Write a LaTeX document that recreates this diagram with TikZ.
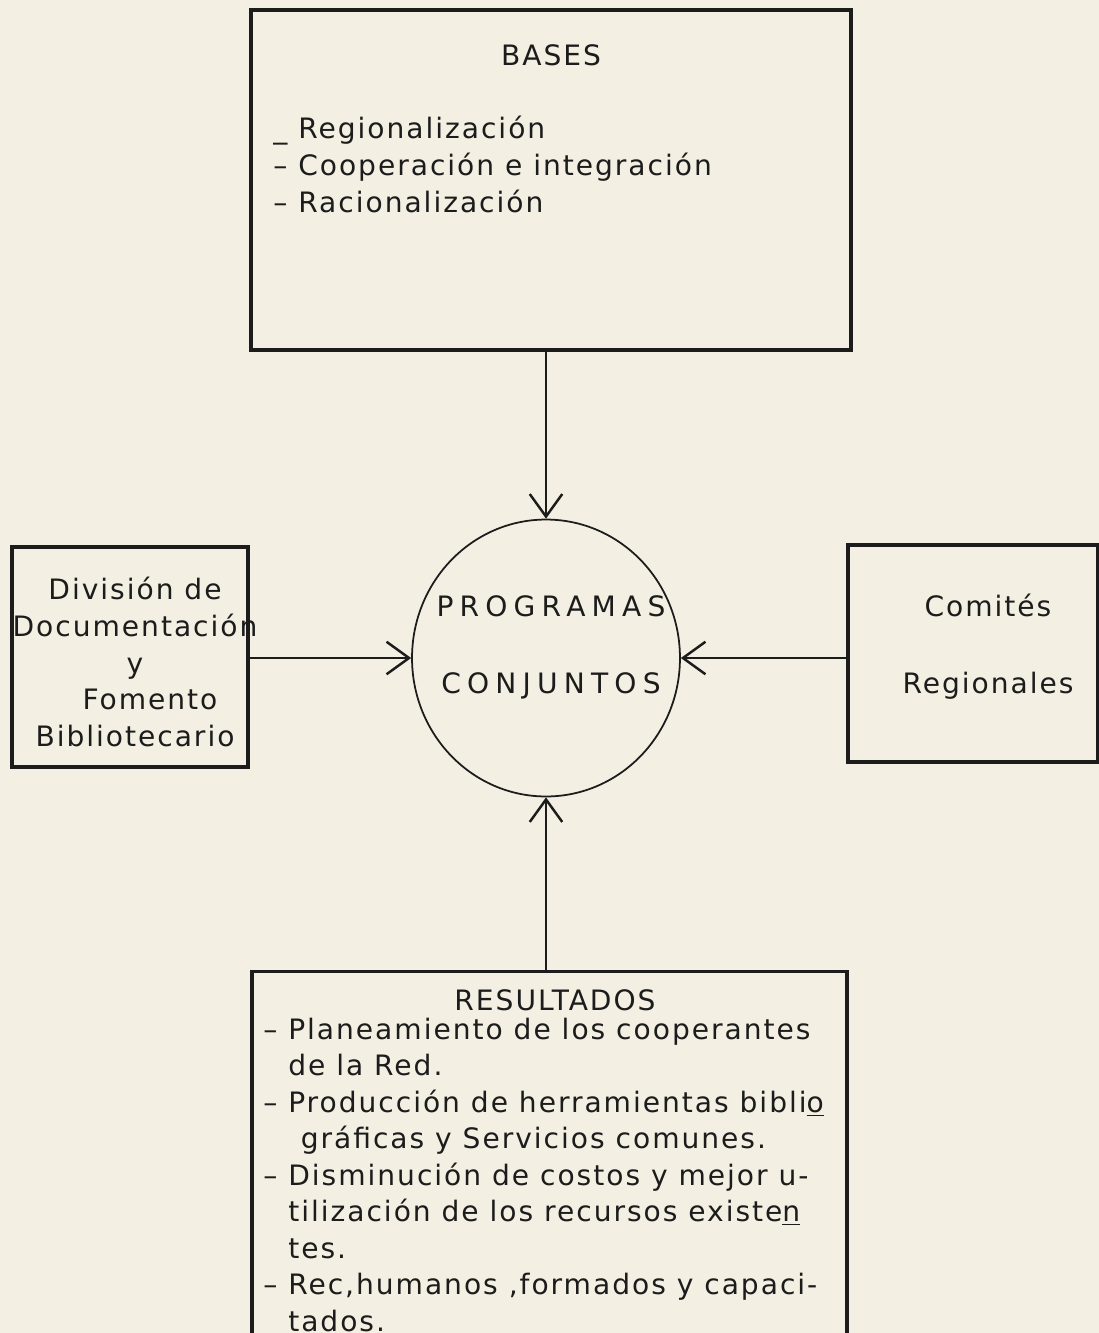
\documentclass[tikz,border=0pt]{standalone}
\usepackage{fontspec}
\setmainfont{DejaVu Sans}[LetterSpace=7]
\usetikzlibrary{positioning,arrows.meta,shapes.geometric}
\definecolor{paper}{RGB}{243,239,226}
\definecolor{ink}{RGB}{28,28,28}

\begin{document}
\begin{tikzpicture}[
    x=0.02cm, y=-0.02cm,
    box/.style={draw=ink, line width=1.8pt, inner sep=0pt},
    txt/.style={text=ink, font=\fontsize{16pt}{20.9pt}\selectfont, inner sep=0pt},
    wide/.style={txt, font=\fontsize{16pt}{20.9pt}\selectfont\addfontfeatures{LetterSpace=22}},
    lst/.style={txt, align=left, anchor=base west},
    arr/.style={draw=ink, line width=1.4pt, -{Straight Barb[length=0.45cm, width=0.65cm]}}
]
\fill[paper] (0,0) rectangle (1099,1333);
\clip (0,0) rectangle (1099,1333);

% boxes and the circle
\node[box, minimum width=12cm, minimum height=6.8cm] (bases) at (551,180) {};
\node[box, minimum width=4.72cm, minimum height=4.4cm] (div) at (130,657) {};
\node[box, minimum width=5cm, minimum height=4.34cm] (com) at (973,653.5) {};
\node[box, minimum width=11.9cm, minimum height=8cm, anchor=north] (res) at (549.5,970) {};
\node[ellipse, draw=ink, line width=1pt, minimum width=5.36cm, minimum height=5.54cm, inner sep=0pt] (prog) at (546,658) {};

% texts (base of a list node = last line)
\node[txt, anchor=base] (basestitle) at (551,65) {BASES};
\node[lst] (baseslist) at (273,212) {\_ Regionalización\\– Cooperación e integración\\– Racionalización};

\node[txt, align=center] (divtxt) at (135,662) {División de\\Documentación\\y\hspace{0.5cm}\\\hspace{0.6cm}Fomento\\Bibliotecario};
\node[txt, align=center] (comtxt) at (988,647) {Comités\\[0.805cm]Regionales};
\node[wide, align=center] (progtxt) at (551,647) {PROGRAMAS\\[0.805cm]CONJUNTOS};

\node[txt, anchor=base] (restitle) at (555,1010) {RESULTADOS};
\node[lst, font=\fontsize{16pt}{20.75pt}\selectfont] (reslist) at (263,1331) {– Planeamiento de los cooperantes\\
\phantom{– }de la Red.\\
– Producción de herramientas bibli\underline{o}\\
\phantom{– }\hspace{0.25cm}gráficas y Servicios comunes.\\
– Disminución de costos y mejor u-\\
\phantom{– }tilización de los recursos existe\underline{n}\\
\phantom{– }tes.\\
– Rec,humanos ,formados y capaci-\\
\phantom{– }tados.};

% connectors
\draw[arr] (bases.south -| prog.north) -- (prog.north);
\draw[arr] (div.east |- prog.west) -- (prog.west);
\draw[arr] (com.west |- prog.east) -- (prog.east);
\draw[arr] (res.north -| prog.south) -- (prog.south);
\end{tikzpicture}
\end{document}
